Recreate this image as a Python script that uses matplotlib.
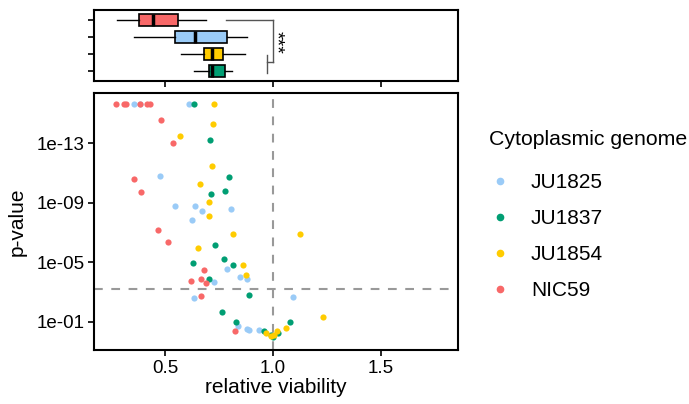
import numpy as np
import matplotlib.pyplot as plt
from matplotlib.lines import Line2D

plt.rcParams['font.family'] = ['Liberation Sans', 'DejaVu Sans']

# Cores por genoma citoplasmático
groups = ['JU1825', 'JU1837', 'JU1854', 'NIC59']
colors = {'JU1825': '#9ACBF7', 'JU1837': '#009E73',
          'JU1854': '#FFCC00', 'NIC59': '#F86868'}

# Viabilidade relativa e p-valores
ju1825_x = [0.355, 0.382, 0.611, 0.475, 0.546, 0.640, 0.673, 0.807, 0.625, 0.788,
            0.846, 0.881, 0.725, 0.632, 1.093, 0.838, 0.877, 0.888, 0.933]
ju1825_p = [2.2e-16, 2.2e-16, 2.2e-16, 1.6e-11, 1.6e-9, 1.6e-9, 3.4e-9, 2.5e-9, 1.4e-8, 3.0e-5,
            9.3e-5, 1.4e-4, 2.0e-4, 2.7e-3, 2.1e-3, 0.19, 0.31, 0.35, 0.35]

ju1837_x = [0.632, 0.706, 0.794, 0.779, 0.713, 0.732, 0.631, 0.773, 0.8125, 0.702,
            0.889, 0.762, 0.830, 0.958, 0.991, 0.999, 1.023, 1.080]
ju1837_p = [2.2e-16, 6.3e-14, 1.9e-11, 1.7e-10, 2.7e-10, 6.8e-7, 1.2e-5, 6.3e-6, 1.6e-5, 1.4e-4,
            1.7e-3, 0.021, 0.105, 0.42, 0.79, 0.99, 0.60, 0.10]

ju1854_x = [0.726, 0.723, 0.571, 0.718, 0.662, 0.702, 0.704, 0.815, 1.126, 0.654,
            0.862, 0.874, 0.966, 1.005, 1.018, 1.060, 1.231, 0.990]
ju1854_p = [2.2e-16, 5.2e-15, 3.2e-14, 3.4e-12, 5.8e-11, 9.3e-10, 7.4e-9, 1.3e-7, 1.3e-7, 1.1e-6,
            1.6e-5, 7.6e-5, 0.53, 0.79, 0.40, 0.26, 0.050, 0.95]

nic59_x = [0.275, 0.312, 0.321, 0.386, 0.415, 0.432, 0.481, 0.538, 0.356, 0.387,
           0.468, 0.512, 0.682, 0.619, 0.665, 0.691, 0.667, 0.825]
nic59_p = [2.2e-16, 2.2e-16, 2.2e-16, 2.2e-16, 2.2e-16, 2.2e-16, 2.9e-15, 9e-14, 2.6e-11, 1.9e-10,
           6.8e-8, 4.2e-7, 3.3e-5, 1.7e-4, 1.4e-4, 2.3e-4, 1.9e-3, 0.39]

# Resumo dos boxplots (de cima para baixo)
box_groups = ['NIC59', 'JU1825', 'JU1854', 'JU1837']
box_whislo = [0.276, 0.358, 0.573, 0.634]
box_q1 = [0.380, 0.546, 0.682, 0.704]
box_med = [0.446, 0.639, 0.716, 0.716]
box_q3 = [0.559, 0.788, 0.770, 0.778]
box_whishi = [0.688, 0.878, 0.872, 0.812]

p_cutoff = 0.05 / 80

series = {'JU1825': (ju1825_x, ju1825_p), 'JU1837': (ju1837_x, ju1837_p),
          'JU1854': (ju1854_x, ju1854_p), 'NIC59': (nic59_x, nic59_p)}

fig = plt.figure(figsize=(6.89, 4.04), dpi=100)
ax = fig.add_axes([94 / 689, 54 / 404, 364 / 689, 257 / 404])
axb = fig.add_axes([94 / 689, 323 / 404, 364 / 689, 71 / 404])

xlim = (0.171, 1.856)

# Painel principal
ax.axvline(1.0, color='#999999', lw=1.5, ls=(0, (4.2, 4.1)), zorder=1)
ax.axhline(p_cutoff, color='#999999', lw=1.5, ls=(0, (4.2, 4.1)), zorder=1)
for g in groups:
    x, p = series[g]
    ax.scatter(x, p, s=20, color=colors[g], linewidths=0, zorder=2, label=g)

ax.set_yscale('log')
ax.set_ylim(10 ** 0.9, 10 ** -16.38)
ax.set_xlim(*xlim)
ax.set_yticks([1e-13, 1e-9, 1e-5, 1e-1])
ax.set_yticklabels(['1e-13', '1e-09', '1e-05', '1e-01'])
ax.minorticks_off()
ax.set_xticks([0.5, 1.0, 1.5])
ax.set_xticklabels(['0.5', '1.0', '1.5'])
ax.set_xlabel('relative viability', fontsize=15, labelpad=1)
ax.set_ylabel('p-value', fontsize=15, labelpad=6.5)

# Boxplots no topo
stats = []
for i, g in enumerate(box_groups):
    stats.append(dict(whislo=box_whislo[i], q1=box_q1[i], med=box_med[i],
                      q3=box_q3[i], whishi=box_whishi[i], fliers=[]))
bp = axb.bxp(stats, positions=[1, 2, 3, 4], vert=False, widths=0.75,
             patch_artist=True, showcaps=False,
             boxprops=dict(lw=1.2, edgecolor='black'),
             medianprops=dict(color='black', lw=2.5),
             whiskerprops=dict(lw=1.0, color='black'))
for patch, g in zip(bp['boxes'], box_groups):
    patch.set_facecolor(colors[g])

# Colchete de significância
br = '#555555'
axb.plot([0.782, 1.0], [1, 1], color=br, lw=1)
axb.plot([1.0, 1.0], [1, 3.5], color=br, lw=1)
axb.plot([0.972, 1.0], [3.5, 3.5], color=br, lw=1)
axb.plot([0.972, 0.972], [3.05, 4.1], color=br, lw=1)
axb.text(1.014, 2.3, '***', rotation=270, ha='center', va='center', fontsize=14)

axb.set_xlim(*xlim)
axb.set_ylim(4.6, 0.4)
axb.set_yticks([1, 2, 3, 4])
axb.set_yticklabels([])
axb.set_xticks([0.5, 1.0, 1.5])
axb.set_xticklabels([])

for a in (ax, axb):
    for s in a.spines.values():
        s.set_linewidth(1.5)
    a.tick_params(width=1.2, length=4, labelsize=13.5, color='black', pad=3)

# Legenda
handles = [Line2D([], [], marker='o', ls='', color=colors[g], markersize=4.5) for g in groups]
leg = fig.legend(handles, groups, title='Cytoplasmic genome', loc='upper left',
                 bbox_to_anchor=(481 / 689, 1 - 122 / 404), frameon=False,
                 fontsize=15, title_fontsize=15.3, labelspacing=0.82,
                 handletextpad=1.0, handlelength=1.0, borderaxespad=0)
leg._legend_box.align = 'left'
leg._legend_box.sep = 17

fig.savefig('out.png', dpi=100)
